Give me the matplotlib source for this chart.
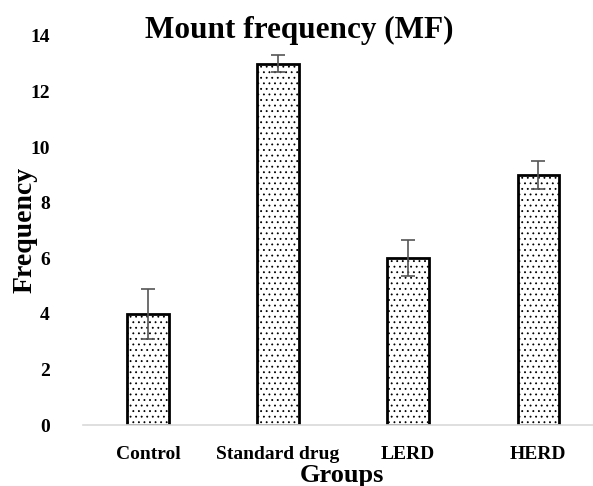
import matplotlib as mpl
import matplotlib.pyplot as plt

groups = ['Control', 'Standard drug', 'LERD', 'HERD']
mean_freq = [4.0, 13.0, 6.0, 9.0]
err_freq = [0.9, 0.3, 0.65, 0.5]

plt.rcParams['font.family'] = ['Liberation Serif', 'DejaVu Serif']
plt.rcParams['font.weight'] = 'bold'
plt.rcParams['hatch.linewidth'] = 0.6

fig = plt.figure(figsize=(5.93, 4.86), dpi=100)
ax = fig.add_axes([83 / 593, 61 / 486, 510 / 593, 389 / 486])

x = range(len(groups))
ax.bar(x, mean_freq, width=0.32, color='white', edgecolor='black', linewidth=2,
       hatch='...', yerr=err_freq,
       error_kw=dict(ecolor='#555555', elinewidth=1.2, capsize=5, capthick=1.2))

ax.set_xlim(-0.5, 3.42)
ax.set_ylim(0, 14)
ax.set_yticks(range(0, 15, 2))
ax.set_xticks(list(x))
ax.set_xticklabels(groups, fontsize=14, fontweight='bold')
for lab in ax.get_yticklabels():
    lab.set_fontsize(14)
    lab.set_fontweight('bold')

for s in ['top', 'right', 'left']:
    ax.spines[s].set_visible(False)
ax.spines['bottom'].set_color('#d9d9d9')
ax.spines['bottom'].set_linewidth(1.2)
ax.tick_params(axis='y', length=0, pad=24)
ax.tick_params(axis='x', length=0, pad=15)

fig.text(25 / 593, 1 - 230 / 486, 'Frequency', ha='center', va='center',
         rotation=90, fontsize=20, fontweight='bold')
fig.text(342 / 593, 1 - 475 / 486, 'Groups', ha='center', va='center',
         fontsize=19, fontweight='bold')
fig.text(0.505, 1 - 30 / 486, 'Mount frequency (MF)', ha='center', va='center',
         fontsize=22.5, fontweight='bold')

plt.savefig('out.png', dpi=100)
